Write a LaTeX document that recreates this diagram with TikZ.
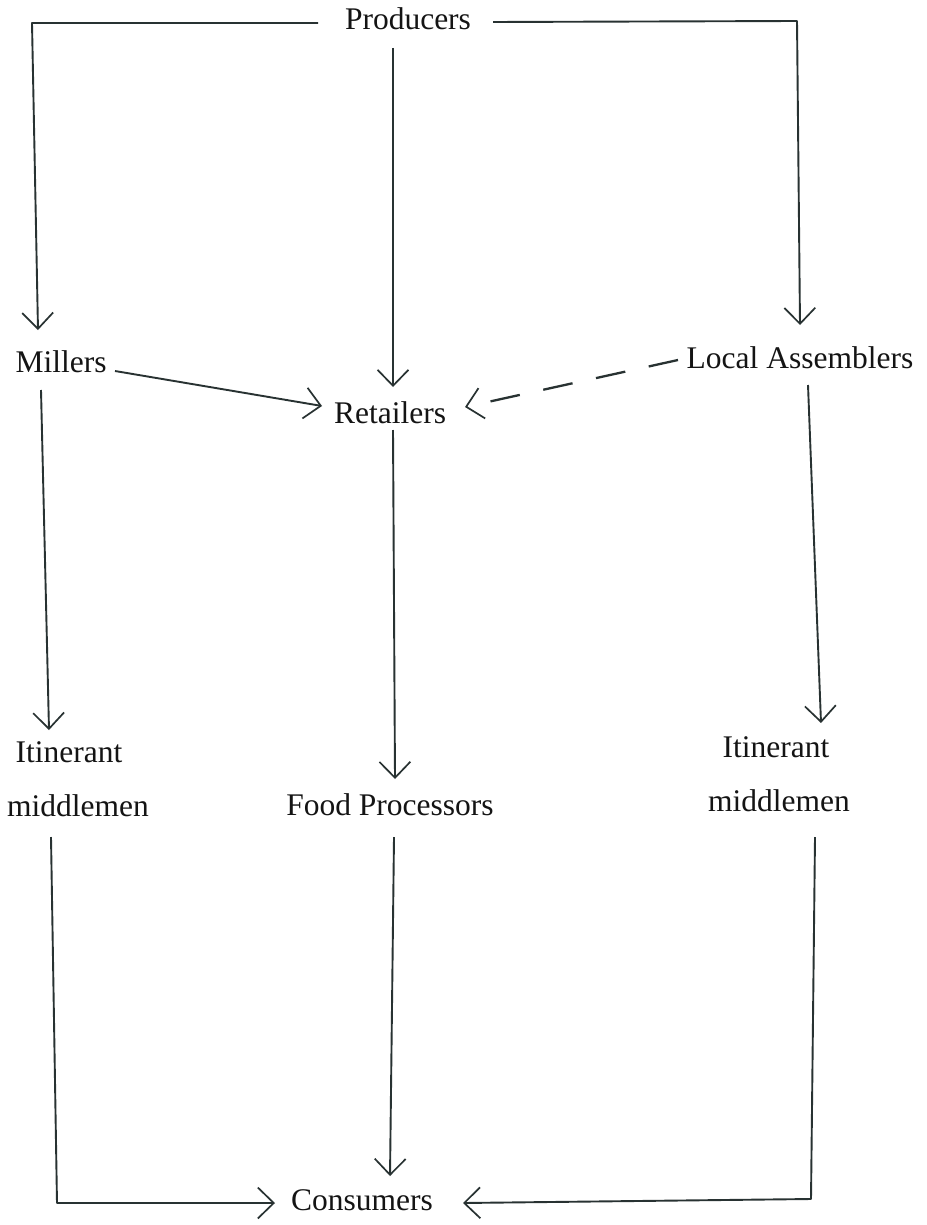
\documentclass[tikz,border=0pt]{standalone}
\usepackage{fontspec}
\setmainfont{Liberation Serif}
\usetikzlibrary{arrows.meta}
\definecolor{linecol}{RGB}{40,50,50}
\definecolor{txtcol}{RGB}{20,20,20}
\begin{document}
\begin{tikzpicture}[x=1pt,y=-1pt,
  lbl/.style={anchor=base,inner sep=0pt,text=txtcol,font=\fontsize{31.5}{37}\selectfont},
  conn/.style={draw=linecol,line width=1.9pt,line join=round},
  arr/.style={conn,-{Straight Barb[length=16pt,width=31pt,line width=1.7pt]}},
  dasharr/.style={arr,line width=2.3pt,dash pattern=on 30pt off 24pt}]
\useasboundingbox[fill=white] (0,0) rectangle (926,1225);
% nodes
\node[lbl] (prod) at (408,30) {Producers};
\node[lbl] (mill) at (61,372) {Millers};
\node[lbl] (ret) at (390,423) {Retailers};
\node[lbl] (loc) at (800,368) {Local Assemblers};
\node[lbl] (itl) at (69,762) {Itinerant};
\node[lbl] (mml) at (78,816) {middlemen};
\node[lbl] (food) at (390,815) {Food Processors};
\node[lbl] (itr) at (776,757) {Itinerant};
\node[lbl] (mmr) at (779,811) {middlemen};
\node[lbl] (cons) at (362,1210) {Consumers};
% connector end points
\coordinate (prodL) at (318,23);
\coordinate (cornTL) at (32,23);
\coordinate (millIn) at (38,330);
\coordinate (prodR) at (493,22);
\coordinate (cornTR) at (797,21);
\coordinate (locIn) at (800,325);
\coordinate (prodS) at (393,48);
\coordinate (retInN) at (393,387);
\coordinate (millE) at (115,371);
\coordinate (retInW) at (322,406);
\coordinate (locW) at (678,360);
\coordinate (retInE) at (465,407);
\coordinate (millS) at (41,390);
\coordinate (itlIn) at (49,730);
\coordinate (retS) at (393,430);
\coordinate (foodIn) at (395,779);
\coordinate (locS) at (808,385);
\coordinate (itrIn) at (821,723);
\coordinate (mmlS) at (51,837);
\coordinate (cornBL) at (57,1203);
\coordinate (consInW) at (275,1203);
\coordinate (foodS) at (394,837);
\coordinate (consInN) at (390,1176);
\coordinate (mmrS) at (815,837);
\coordinate (cornBR) at (811,1199);
\coordinate (consInE) at (463,1203);
% connectors
\draw[arr] (prodL) -- (cornTL) -- (millIn);
\draw[arr] (prodR) -- (cornTR) -- (locIn);
\draw[arr] (prodS) -- (retInN);
\draw[arr] (millE) -- (retInW);
\draw[dasharr] (locW) -- (retInE);
\draw[arr] (millS) -- (itlIn);
\draw[arr] (retS) -- (foodIn);
\draw[arr] (locS) -- (itrIn);
\draw[arr] (mmlS) -- (cornBL) -- (consInW);
\draw[arr] (foodS) -- (consInN);
\draw[arr] (mmrS) -- (cornBR) -- (consInE);
\end{tikzpicture}
\end{document}
